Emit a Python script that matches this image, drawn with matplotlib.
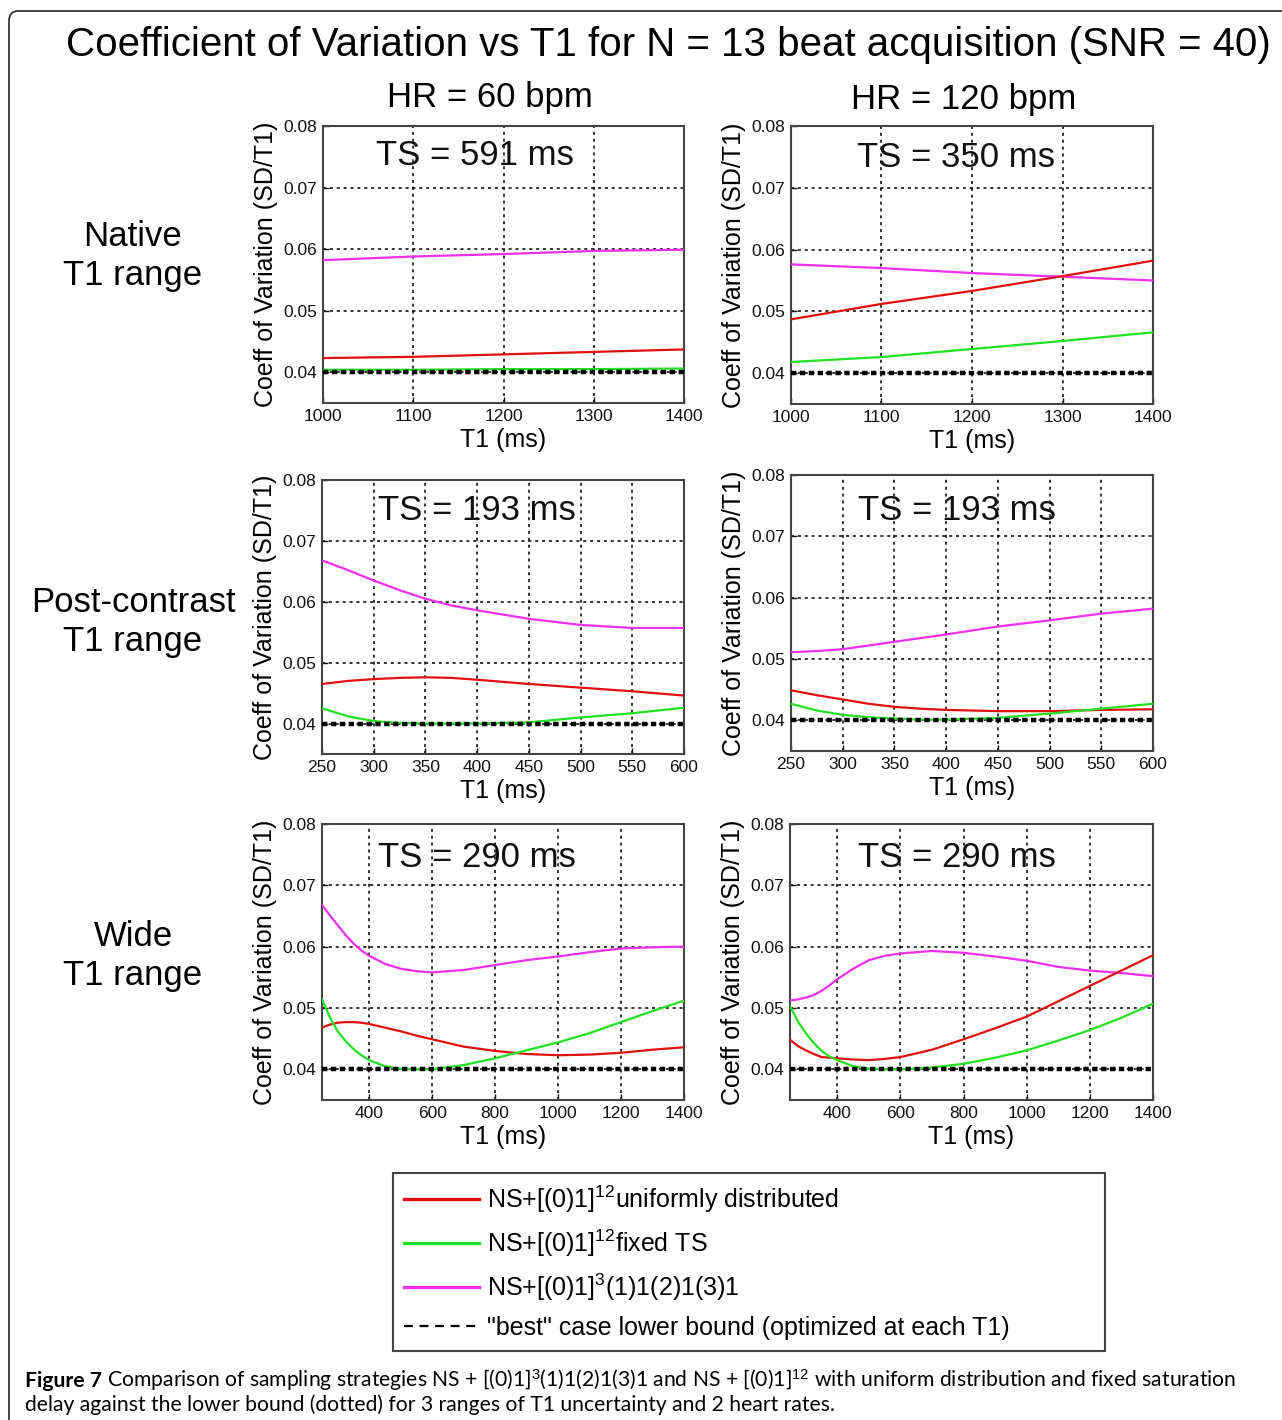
import matplotlib
matplotlib.use('Agg')
import matplotlib.pyplot as plt
from matplotlib.lines import Line2D
from matplotlib.patches import FancyBboxPatch

# Fuente principal (tipo Arial de MATLAB)
plt.rcParams['font.family'] = ['Liberation Sans', 'DejaVu Sans']
plt.rcParams['mathtext.fontset'] = 'custom'
plt.rcParams['mathtext.rm'] = 'Liberation Sans'
plt.rcParams['mathtext.it'] = 'Liberation Sans:italic'
plt.rcParams['mathtext.bf'] = 'Liberation Sans:bold'

caption_font = 'Lato'

# ---------------- Datos ----------------
# Native T1 range
t1_native = [1000, 1100, 1200, 1300, 1400]
native60_red = [0.0423, 0.0425, 0.0429, 0.0433, 0.0437]
native60_green = [0.0404, 0.0404, 0.0405, 0.0405, 0.0406]
native60_magenta = [0.0582, 0.0588, 0.0592, 0.0597, 0.0599]
native60_lower = [0.0400, 0.0400, 0.0400, 0.0400, 0.0400]

native120_red = [0.0487, 0.0512, 0.0533, 0.0557, 0.0582]
native120_green = [0.0418, 0.0426, 0.0439, 0.0452, 0.0466]
native120_magenta = [0.0576, 0.0570, 0.0562, 0.0556, 0.0550]
native120_lower = [0.0400, 0.0400, 0.0400, 0.0400, 0.0400]

# Post-contrast T1 range
t1_post = [250, 275, 300, 325, 350, 375, 400, 450, 500, 550, 600]
post60_red = [0.0465, 0.0470, 0.0473, 0.0475, 0.0476, 0.0475, 0.0472, 0.0465, 0.0459, 0.0453, 0.0446]
post60_green = [0.0425, 0.0412, 0.0404, 0.0401, 0.0400, 0.0400, 0.0400, 0.0402, 0.0410, 0.0417, 0.0426]
post60_magenta = [0.0668, 0.0652, 0.0635, 0.0619, 0.0605, 0.0594, 0.0586, 0.0572, 0.0562, 0.0557, 0.0557]
post60_lower = [0.0400, 0.0400, 0.0400, 0.0400, 0.0400, 0.0400, 0.0400, 0.0400, 0.0400, 0.0400, 0.0400]

post120_red = [0.0449, 0.0441, 0.0434, 0.0427, 0.0422, 0.0419, 0.0417, 0.0415, 0.0415, 0.0417, 0.0418]
post120_green = [0.0427, 0.0416, 0.0409, 0.0405, 0.0403, 0.0401, 0.0401, 0.0404, 0.0411, 0.0419, 0.0427]
post120_magenta = [0.0511, 0.0513, 0.0516, 0.0522, 0.0528, 0.0534, 0.0540, 0.0553, 0.0563, 0.0574, 0.0582]
post120_lower = [0.0400, 0.0400, 0.0400, 0.0400, 0.0400, 0.0400, 0.0400, 0.0400, 0.0400, 0.0400, 0.0400]

# Wide T1 range
t1_wide = [250, 275, 300, 325, 350, 375, 400, 450, 500, 550, 600, 700, 800, 900,
           1000, 1100, 1200, 1300, 1400]
wide60_red = [0.0468, 0.0473, 0.0476, 0.0477, 0.0477, 0.0476, 0.0474, 0.0468, 0.0462, 0.0455,
              0.0449, 0.0437, 0.0430, 0.0425, 0.0423, 0.0424, 0.0427, 0.0432, 0.0436]
wide60_green = [0.0514, 0.0485, 0.0462, 0.0446, 0.0433, 0.0423, 0.0415, 0.0405, 0.0401, 0.0400,
                0.0400, 0.0407, 0.0418, 0.0431, 0.0444, 0.0459, 0.0477, 0.0495, 0.0512]
wide60_magenta = [0.0668, 0.0651, 0.0635, 0.0619, 0.0605, 0.0594, 0.0585, 0.0572, 0.0564, 0.0560,
                  0.0558, 0.0562, 0.0570, 0.0578, 0.0584, 0.0591, 0.0597, 0.0599, 0.0600]
wide60_lower = [0.0400, 0.0400, 0.0400, 0.0400, 0.0400, 0.0400, 0.0400, 0.0400, 0.0400, 0.0400,
                0.0400, 0.0400, 0.0400, 0.0400, 0.0400, 0.0400, 0.0400, 0.0400, 0.0400]

wide120_red = [0.0448, 0.0438, 0.0431, 0.0425, 0.0420, 0.0419, 0.0418, 0.0416, 0.0415, 0.0417,
               0.0420, 0.0432, 0.0449, 0.0467, 0.0486, 0.0511, 0.0536, 0.0561, 0.0586]
wide120_green = [0.0503, 0.0478, 0.0459, 0.0443, 0.0430, 0.0421, 0.0415, 0.0405, 0.0401, 0.0400,
                 0.0400, 0.0403, 0.0409, 0.0419, 0.0431, 0.0447, 0.0464, 0.0484, 0.0507]
wide120_magenta = [0.0512, 0.0514, 0.0517, 0.0521, 0.0528, 0.0537, 0.0547, 0.0564, 0.0578, 0.0585,
                   0.0589, 0.0593, 0.0590, 0.0584, 0.0577, 0.0567, 0.0561, 0.0557, 0.0552]
wide120_lower = [0.0400, 0.0400, 0.0400, 0.0400, 0.0400, 0.0400, 0.0400, 0.0400, 0.0400, 0.0400,
                 0.0400, 0.0400, 0.0400, 0.0400, 0.0400, 0.0400, 0.0400, 0.0400, 0.0400]

ts_labels = ['TS = 591 ms', 'TS = 350 ms', 'TS = 193 ms', 'TS = 193 ms', 'TS = 290 ms', 'TS = 290 ms']
ticks_native = [1000, 1100, 1200, 1300, 1400]
ticks_post = [250, 300, 350, 400, 450, 500, 550, 600]
ticks_wide = [400, 600, 800, 1000, 1200, 1400]
yticks = [0.04, 0.05, 0.06, 0.07, 0.08]

legend_labels = ['NS+[(0)1]$^{12}$uniformly distributed',
                 'NS+[(0)1]$^{12}$fixed TS',
                 'NS+[(0)1]$^{3}$(1)1(2)1(3)1',
                 '"best" case lower bound (optimized at each T1)']

# Colores (estilo MATLAB)
c_red = '#e01010'
c_green = '#22e022'
c_magenta = '#ee30ee'

# ---------------- Figura ----------------
W, H = 1282, 1420
fig = plt.figure(figsize=(W / 100, H / 100), dpi=100)
fig.patch.set_facecolor('white')

# marco redondeado exterior
frame = FancyBboxPatch((9 / W, -0.05), (W + 40) / W, (H - 11) / H + 0.05,
                       boxstyle='round,pad=0,rounding_size=0.007',
                       transform=fig.transFigure, facecolor='none',
                       edgecolor='#333333', linewidth=1.3)
fig.patches.append(frame)


def add_ax(x0, y0, x1, y1):
    return fig.add_axes([x0 / W, 1 - y1 / H, (x1 - x0) / W, (y1 - y0) / H])


panels = [
    (add_ax(323, 126, 684, 403), t1_native, native60_red, native60_green, native60_magenta, native60_lower,
     ticks_native, (1000, 1400), (0.421, 0.895)),
    (add_ax(791, 126, 1153, 404), t1_native, native120_red, native120_green, native120_magenta, native120_lower,
     ticks_native, (1000, 1400), (0.456, 0.888)),
    (add_ax(322, 480, 684, 754), t1_post, post60_red, post60_green, post60_magenta, post60_lower,
     ticks_post, (250, 600), (0.428, 0.89)),
    (add_ax(791, 475, 1153, 751), t1_post, post120_red, post120_green, post120_magenta, post120_lower,
     ticks_post, (250, 600), (0.459, 0.873)),
    (add_ax(322, 824, 684, 1100), t1_wide, wide60_red, wide60_green, wide60_magenta, wide60_lower,
     ticks_wide, (250, 1400), (0.428, 0.88)),
    (add_ax(790, 824, 1153, 1100), t1_wide, wide120_red, wide120_green, wide120_magenta, wide120_lower,
     ticks_wide, (250, 1400), (0.459, 0.88)),
]

for i, (ax, x, red, green, magenta, lower, xt, xl, tpos) in enumerate(panels):
    ax.plot(x, magenta, color=c_magenta, lw=1.6, zorder=3)
    ax.plot(x, red, color=c_red, lw=1.6, zorder=3)
    ax.plot(x, green, color=c_green, lw=1.6, zorder=3)
    ax.plot(x, lower, color='black', lw=3.2, linestyle=(0, (1.2, 0.8)), zorder=4)

    ax.set_xlim(xl)
    ax.set_ylim(0.035, 0.08)
    ax.set_xticks(xt)
    ax.set_yticks(yticks)
    ax.set_yticklabels([f'{v:.2f}' for v in yticks])
    ax.tick_params(direction='in', length=4, width=1, labelsize=12.5, colors='#111111', pad=4)
    ax.grid(True, color='black', linestyle=(0, (2, 2.5)), linewidth=1.1)
    ax.set_axisbelow(True)
    for sp in ax.spines.values():
        sp.set_color('#444444')
        sp.set_linewidth(1.5)
    ax.set_xlabel('T1 (ms)', fontsize=18, labelpad=3)
    ax.set_ylabel('Coeff of Variation (SD/T1)', fontsize=18, labelpad=4)
    ax.text(tpos[0], tpos[1], ts_labels[i], transform=ax.transAxes, fontsize=25,
            ha='center', va='center', color='#111111')

# Títulos
fig.text(668 / W, 1 - 45 / H, 'Coefficient of Variation vs T1 for N = 13 beat acquisition (SNR = 40)',
         ha='center', va='center', fontsize=29)
fig.text(490 / W, 1 - 98 / H, 'HR = 60 bpm', ha='center', va='center', fontsize=25)
fig.text(964 / W, 1 - 100 / H, 'HR = 120 bpm', ha='center', va='center', fontsize=25)

for label, yc in [('Native\nT1 range', 256), ('Post-contrast\nT1 range', 622), ('Wide\nT1 range', 956)]:
    fig.text(133 / W, 1 - yc / H, label, ha='center', va='center', fontsize=25, linespacing=1.2)

# Leyenda
handles = [Line2D([], [], color=c_red, lw=2.4),
           Line2D([], [], color=c_green, lw=2.4),
           Line2D([], [], color=c_magenta, lw=2.4),
           Line2D([], [], color='black', lw=1.6, linestyle=(0, (4, 3)))]
leg = fig.legend(handles, legend_labels, loc='upper left',
                 bbox_to_anchor=(393 / W, 1 - 1174 / H, (1105 - 393) / W, 0.001),
                 mode='expand', fontsize=18, handlelength=3.0, handletextpad=0.3,
                 labelspacing=0.5, borderpad=0.45, fancybox=False, framealpha=1,
                 edgecolor='#444444', borderaxespad=0)
leg.get_frame().set_linewidth(1.5)

# Pie de figura
cap_size = 15.2
cap1 = fig.text(25 / W, 1 - 1387 / H, 'Figure 7', fontsize=cap_size, fontweight='bold',
                family=caption_font, ha='left', va='baseline')
fig.canvas.draw()
x_after = cap1.get_window_extent().x1 / W
fig.text(x_after, 1 - 1387 / H,
         ' Comparison of sampling strategies NS + [(0)1]$^3$(1)1(2)1(3)1 and NS + [(0)1]$^{12}$'
         ' with uniform distribution and fixed saturation',
         fontsize=cap_size, family=caption_font, ha='left', va='baseline')
fig.text(25 / W, 1 - 1411 / H,
         'delay against the lower bound (dotted) for 3 ranges of T1 uncertainty and 2 heart rates.',
         fontsize=cap_size, family=caption_font, ha='left', va='baseline')

fig.savefig('out.png', dpi=100, facecolor='white')
